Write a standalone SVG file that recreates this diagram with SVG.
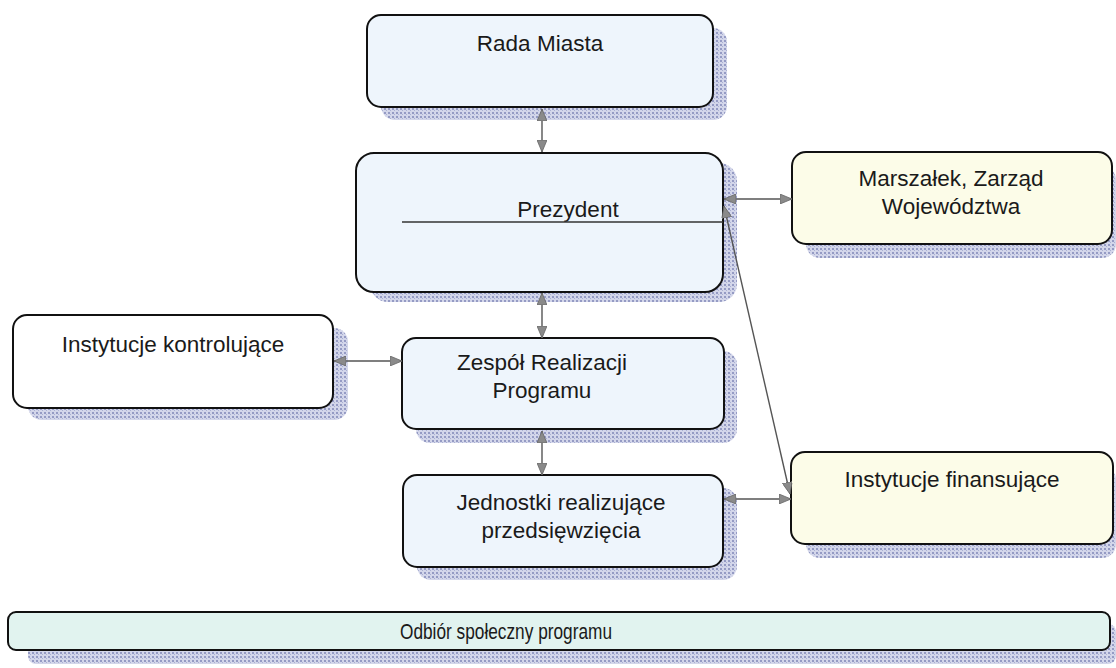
<svg xmlns="http://www.w3.org/2000/svg" width="1116" height="668" viewBox="0 0 1116 668">
<defs>
<pattern id="hatch" width="4" height="4" patternUnits="userSpaceOnUse">
<rect width="4" height="4" fill="#d3d6ea"/>
<rect x="0" y="0" width="2" height="2" fill="#959bc4"/>
<rect x="2" y="2" width="1" height="1" fill="#aab0d2"/>
</pattern>
<marker id="ah" viewBox="0 0 12 10" refX="12" refY="5" markerWidth="12" markerHeight="10" markerUnits="userSpaceOnUse" orient="auto-start-reverse">
<path d="M0,0 L12,5 L0,10 Z" fill="#8a8a8a" stroke="#666" stroke-width="0.8"/>
</marker>
</defs>
<style>
.box{stroke:#111;stroke-width:2}
.sh{fill:url(#hatch)}
.blue{fill:#eef5fc}
.white{fill:#ffffff}
.yellow{fill:#fcfce8}
.cyan{fill:#e1f3ef}
text{font-family:"Liberation Sans",Arial,sans-serif;font-size:22.5px;fill:#1a1a1a;text-anchor:middle}
.conn{stroke:#555;stroke-width:1.4;fill:none}
</style>
<rect width="1116" height="668" fill="#ffffff"/>

<g id="rada">
<rect class="sh" x="381" y="28" width="346" height="92" rx="14"/>
<rect class="box blue" x="367" y="15" width="346" height="92" rx="14"/>
<text x="540" y="51">Rada Miasta</text>
</g>

<g id="prezydent">
<rect class="sh" x="370" y="163" width="367" height="139" rx="18"/>
<rect class="box blue" x="356" y="153" width="367" height="139" rx="18"/>
<text x="568" y="217">Prezydent</text>
<line x1="402" y1="222" x2="723" y2="222" stroke="#333" stroke-width="1.4"/>
</g>

<g id="marszalek">
<rect class="sh" x="806" y="166" width="310" height="92" rx="14"/>
<rect class="box yellow" x="792" y="152" width="320" height="92" rx="14"/>
<text x="951" y="186">Marszałek, Zarząd</text>
<text x="951" y="214">Województwa</text>
</g>

<g id="kontrolujace">
<rect class="sh" x="28" y="328" width="320" height="92" rx="14"/>
<rect class="box white" x="13" y="315" width="320" height="93" rx="14"/>
<text x="173" y="352">Instytucje kontrolujące</text>
</g>

<g id="zespol">
<rect class="sh" x="416" y="351" width="321" height="92" rx="14"/>
<rect class="box blue" x="402" y="338" width="322" height="91" rx="14"/>
<text x="542" y="370">Zespół Realizacji</text>
<text x="542" y="398">Programu</text>
</g>

<g id="jednostki">
<rect class="sh" x="417" y="488" width="320" height="92" rx="14"/>
<rect class="box blue" x="403" y="475" width="320" height="92" rx="14"/>
<text x="561" y="510">Jednostki realizujące</text>
<text x="561" y="538">przedsięwzięcia</text>
</g>

<g id="finansujace">
<rect class="sh" x="806" y="466" width="310" height="92" rx="14"/>
<rect class="box yellow" x="791" y="452" width="322" height="92" rx="14"/>
<text x="952" y="487">Instytucje finansujące</text>
</g>

<g id="odbior">
<rect class="sh" x="28" y="624" width="1088" height="40" rx="8"/>
<rect class="box cyan" x="8" y="612" width="1102" height="38" rx="8"/>
<text x="506" y="639" font-size="22" textLength="212" lengthAdjust="spacingAndGlyphs">Odbiór społeczny programu</text>
</g>

<g id="connectors">
<line class="conn" x1="542" y1="109" x2="542" y2="152" marker-start="url(#ah)" marker-end="url(#ah)"/>
<line class="conn" x1="542" y1="293" x2="542" y2="338" marker-start="url(#ah)" marker-end="url(#ah)"/>
<line class="conn" x1="542" y1="431" x2="542" y2="475" marker-start="url(#ah)" marker-end="url(#ah)"/>
<line class="conn" x1="334" y1="361" x2="402" y2="361" marker-start="url(#ah)" marker-end="url(#ah)"/>
<line class="conn" x1="724" y1="199" x2="792" y2="199" marker-start="url(#ah)" marker-end="url(#ah)"/>
<line class="conn" x1="724" y1="499" x2="791" y2="499" marker-start="url(#ah)" marker-end="url(#ah)"/>
<line class="conn" x1="724" y1="206" x2="790" y2="494" stroke="#222" marker-start="url(#ah)" marker-end="url(#ah)"/>
</g>
</svg>
